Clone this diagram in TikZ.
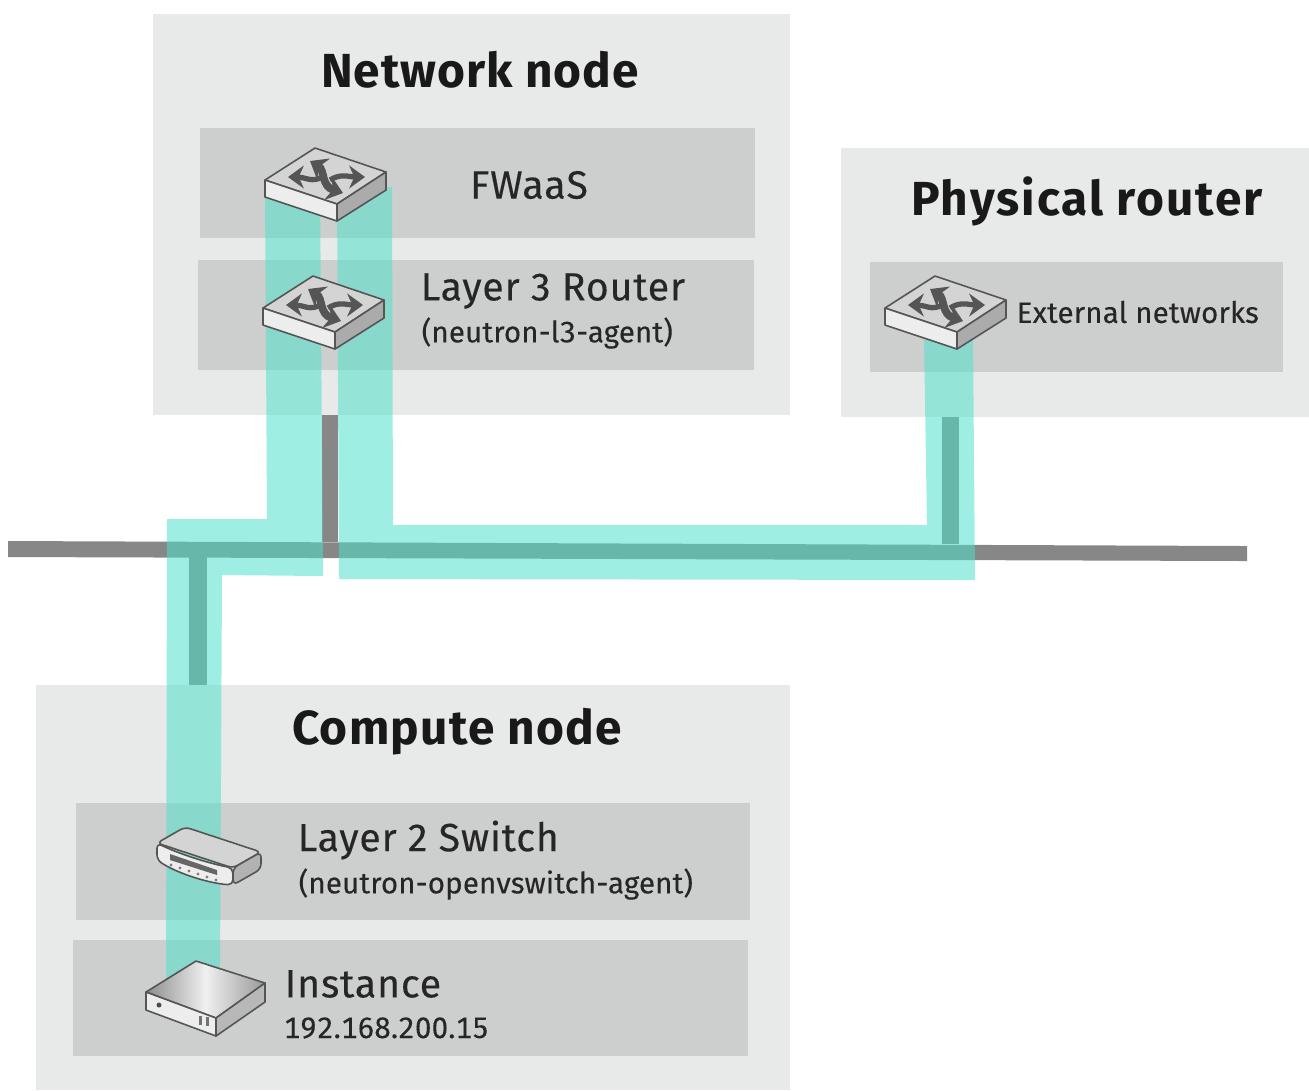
\documentclass[tikz,border=0pt]{standalone}
\usepackage{fontspec}
\usepackage{xcolor}
\setmainfont{Fira Sans}
\usetikzlibrary{arrows.meta, positioning}
\definecolor{outerfill}{RGB}{232,233,233}
\definecolor{innerfill}{RGB}{205,207,206}
\definecolor{wirecol}{RGB}{135,135,135}
\definecolor{bandcol}{RGB}{78,224,203}
\definecolor{edgecol}{RGB}{85,85,85}
\tikzset{
    outerbox/.style={fill=outerfill},
    innerbox/.style={fill=innerfill},
    wire/.style={fill=wirecol},
    band/.style={fill=bandcol, fill opacity=0.54},
    title/.style={inner sep=0pt, font=\fontsize{13.6}{15}\selectfont\bfseries\addfontfeatures{LetterSpace=2}, text=black!90},
    label/.style={inner sep=0pt, anchor=west, font=\fontsize{11.2}{13}\selectfont\addfontfeatures{LetterSpace=2, FakeBold=0.2}, text=black!85},
    small/.style={inner sep=0pt, anchor=west, font=\fontsize{8.4}{10}\selectfont\addfontfeatures{LetterSpace=0.5, FakeBold=0.2, Numbers=Monospaced}, text=black!85},
    outline/.style={draw=edgecol, line width=0.45pt, line join=round},
    pics/routericon/.style={code={
        \fill[outline, fill=black!17] (0,0) -- (0.50,0.32) -- (1.21,0.08) -- (0.72,-0.24) -- cycle;
        \fill[outline, fill=black!7] (0,0) -- (0.72,-0.24) -- (0.72,-0.41) -- (0,-0.17) -- cycle;
        \fill[outline, fill=black!33] (0.72,-0.24) -- (1.21,0.08) -- (1.21,-0.10) -- (0.72,-0.41) -- cycle;
        \draw[edgecol, line width=2.2pt, {Stealth[length=4.5pt, width=7pt]}-{Stealth[length=4.5pt, width=7pt]}] (0.45,0.19) .. controls (0.60,0.10) and (0.56,-0.06) .. (0.78,-0.13);
        \draw[edgecol, line width=1.5pt, -{Stealth[length=4.5pt, width=6.5pt]}] (0.57,0.03) .. controls (0.47,-0.03) and (0.40,0.03) .. (0.23,0.03);
        \draw[edgecol, line width=1.5pt, -{Stealth[length=4.5pt, width=6.5pt]}] (0.65,0) .. controls (0.76,0.07) and (0.84,0.03) .. (1.00,0.03);
    }},
    pics/switchicon/.style={code={
        \fill[outline, fill=black!17, rounded corners=1.5pt] (0,0) -- (0.28,0.16) -- (1.04,-0.09) -- (0.76,-0.25) -- cycle;
        \fill[outline, fill=black!7, rounded corners=1.5pt] (0,0) .. controls (0.20,-0.10) and (0.50,-0.20) .. (0.76,-0.25) -- (0.76,-0.42) .. controls (0.50,-0.40) and (0.20,-0.30) .. (0,-0.17) -- cycle;
        \fill[outline, fill=black!30, rounded corners=1.5pt] (0.76,-0.25) -- (1.04,-0.09) -- (1.04,-0.26) -- (0.76,-0.42) -- cycle;
        \fill[black!60] (0.13,-0.11) -- (0.60,-0.27) -- (0.60,-0.32) -- (0.13,-0.17) -- cycle;
        \foreach \i in {0,...,5}
            \fill[black!50] ({0.14+0.09*\i},{-0.22-0.03*\i}) circle (0.016);
    }},
    pics/servericon/.style={code={
        \shade[left color=black!45, right color=black!40, middle color=black!6] (0,0) -- (0.50,0.31) -- (1.19,0.09) -- (0.70,-0.26) -- cycle;
        \draw[outline] (0,0) -- (0.50,0.31) -- (1.19,0.09) -- (0.70,-0.26) -- cycle;
        \fill[outline, fill=black!7] (0,0) -- (0.70,-0.26) -- (0.70,-0.44) -- (0,-0.18) -- cycle;
        \fill[outline, fill=black!28] (0.70,-0.26) -- (1.19,0.09) -- (1.19,-0.10) -- (0.70,-0.44) -- cycle;
        \fill[black!70] (0.13,-0.13) circle (0.025);
        \fill[black!55] (0.53,-0.24) rectangle (0.56,-0.33);
        \fill[black!55] (0.60,-0.25) rectangle (0.63,-0.34);
    }}
}

\begin{document}
\begin{tikzpicture}
    \useasboundingbox (0, 0) rectangle (13.09, -10.90);

    % boxes
    \fill[outerbox] (1.53, -0.14) rectangle (7.90, -4.15);
    \fill[outerbox] (8.41, -1.48) rectangle (13.09, -4.17);
    \fill[outerbox] (0.36, -6.85) rectangle (7.90, -10.90);
    \fill[innerbox] (2.00, -1.28) rectangle (7.55, -2.38);
    \fill[innerbox] (1.98, -2.60) rectangle (7.54, -3.70);
    \fill[innerbox] (8.70, -2.62) rectangle (12.83, -3.72);
    \fill[innerbox] (0.76, -8.03) rectangle (7.50, -9.20);
    \fill[innerbox] (0.73, -9.40) rectangle (7.48, -10.56);

    % wires
    \fill[wire] (0.08, -5.41) -- (12.47, -5.46) -- (12.47, -5.61) -- (0.08, -5.57) -- cycle;
    \fill[wire] (3.22, -4.15) rectangle (3.38, -5.42);
    \fill[wire] (9.42, -4.17) rectangle (9.59, -5.44);
    \fill[wire] (1.89, -5.57) rectangle (2.07, -6.85);

    % bands
    \fill[band] (2.65, -1.90) -- (3.20, -1.90) -- (3.23, -5.76) -- (2.22, -5.75)
        -- (2.20, -9.75) -- (1.66, -10.00) -- (1.67, -5.19) -- (2.67, -5.19) -- cycle;
    \fill[band] (3.37, -1.87) -- (3.92, -1.87) -- (3.93, -5.25) -- (9.27, -5.25)
        -- (9.24, -3.40) -- (9.73, -3.40) -- (9.75, -5.80) -- (3.39, -5.79) -- cycle;

    % devices
    \pic (fwaasicon) at (2.65, -1.80) {routericon};
    \pic (l3icon) at (2.63, -3.08) {routericon};
    \pic (exticon) at (8.85, -3.08) {routericon};
    \pic (l2icon) at (1.57, -8.43) {switchicon};
    \pic (vmicon) at (1.46, -9.92) {servericon};

    % text
    \node[title] (network) at (4.80, -0.70) {Network node};
    \node[title] (physical) at (10.87, -2.01) {\addfontfeatures{LetterSpace=4.2}Physical router};
    \node[title] (compute) at (4.57, -7.32) {\addfontfeatures{LetterSpace=2.8}Compute node};
    \node[label, anchor=center] (fwaas) at (5.29, -1.85) {FWaaS};
    \node[label] (l3) at (4.20, -2.91) {Layer 3 Router};
    \node[small] (l3agent) at (4.21, -3.33) {(neutron-l3-agent)};
    \node[small] (external) at (10.16, -3.12) {External networks};
    \node[label] (l2) at (2.97, -8.40) {Layer 2 Switch};
    \node[small] (l2agent) at (2.98, -8.84) {(neutron-openvswitch-agent)};
    \node[label] (instance) at (2.84, -9.84) {Instance};
    \node[small] (address) at (2.83, -10.28) {192.168.200.15};
\end{tikzpicture}
\end{document}
